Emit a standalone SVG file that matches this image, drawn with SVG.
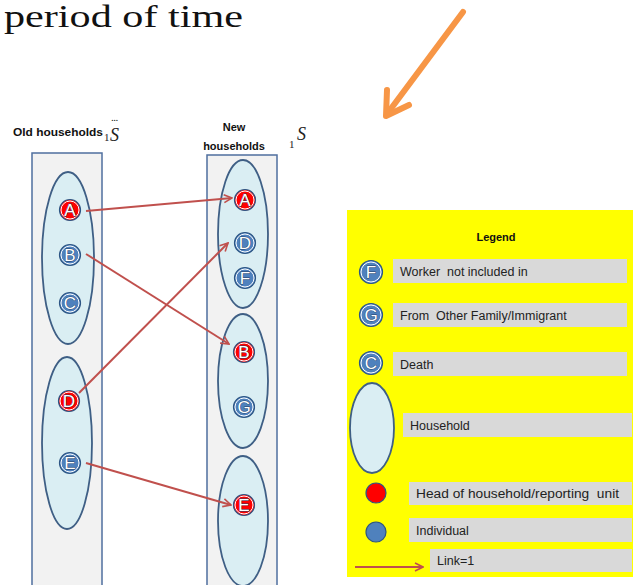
<svg xmlns="http://www.w3.org/2000/svg" width="633" height="585" viewBox="0 0 633 585">
  <defs>
    <style>
      .title { font-family: "Liberation Serif", "DejaVu Serif", serif; font-size: 31px; fill: #111; }
      .head { font-family: "Liberation Sans", Arial, sans-serif; font-size: 11px; font-weight: bold; fill: #111; }
      .math { font-family: "Liberation Serif", serif; font-style: italic; font-size: 18px; fill: #222; }
      .sub { font-family: "Liberation Serif", serif; font-size: 11px; fill: #222; }
      .col { fill: #f2f2f2; stroke: #4f6f9f; stroke-width: 1.5; }
      .hh { fill: #daeef3; stroke: #3f5f85; stroke-width: 1.8; }
      .ind { fill: #4f81bd; stroke: #2c5584; stroke-width: 1.2; }
      .headc { fill: #ff0000; stroke: #2c5584; stroke-width: 1.2; }
      .ring { fill: none; stroke: #ffffff; stroke-width: 1; }
      .lt { font-family: "Liberation Sans", Arial, sans-serif; font-size: 17px; fill: #ffffff; stroke: #1f3f66; stroke-width: 0.8; paint-order: stroke; text-anchor: middle; }
      .link { stroke: #c0504d; stroke-width: 2; fill: none; marker-end: url(#ah); }
      .bar { fill: #d9d9d9; }
      .lg { font-family: "Liberation Sans", Arial, sans-serif; font-size: 12.5px; fill: #222; }
    </style>
    <marker id="ah" viewBox="0 0 10 10" refX="9" refY="5" markerWidth="5" markerHeight="5" orient="auto" markerUnits="strokeWidth">
      <path d="M1,1 L9,5 L1,9" fill="none" stroke="#c0504d" stroke-width="1.6"/>
    </marker>
  </defs>

  <rect width="633" height="585" fill="#ffffff"/>

  <!-- heading -->
  <text class="title" x="4" y="27" textLength="239" lengthAdjust="spacingAndGlyphs">period of time</text>

  <!-- orange pointer arrow -->
  <g id="pointer" stroke="#f79646" stroke-width="6" stroke-linecap="round" stroke-linejoin="round" fill="none">
    <line x1="463" y1="12" x2="387" y2="114"/>
    <polyline points="387,90 386,116 409,105"/>
  </g>

  <!-- column headers -->
  <g id="old-header">
    <text class="head" x="13" y="136" textLength="90" lengthAdjust="spacingAndGlyphs">Old households</text>
    <text class="sub" x="104" y="141">1</text>
    <text class="math" x="110" y="141">S</text>
    <text class="sub" x="111" y="121" font-size="9" letter-spacing="-0.5">...</text>
  </g>
  <g id="new-header">
    <text class="head" x="234" y="131" text-anchor="middle">New</text>
    <text class="head" x="234" y="150" text-anchor="middle">households</text>
    <text class="sub" x="289" y="148">1</text>
    <text class="math" x="297" y="140">S</text>
  </g>

  <!-- columns -->
  <g id="old-column">
    <rect class="col" x="32" y="153" width="70" height="440"/>
  </g>
  <g id="new-column">
    <rect class="col" x="207" y="155" width="70" height="440"/>
  </g>

  <!-- old households -->
  <g id="old-hh1">
    <ellipse class="hh" cx="68" cy="258" rx="26" ry="86"/>
  </g>
  <g id="old-hh2">
    <ellipse class="hh" cx="67" cy="443" rx="25" ry="86"/>
  </g>

  <!-- new households -->
  <g id="new-hh1">
    <ellipse class="hh" cx="243" cy="234" rx="25" ry="74"/>
  </g>
  <g id="new-hh2">
    <ellipse class="hh" cx="243" cy="381" rx="25" ry="67"/>
  </g>
  <g id="new-hh3">
    <ellipse class="hh" cx="243" cy="521" rx="25" ry="65"/>
  </g>

  <!-- individuals, old side -->
  <g id="old-A"><circle class="headc" cx="70" cy="210" r="10.5"/><circle class="ring" cx="70" cy="210" r="9"/><text class="lt" x="70" y="216">A</text></g>
  <g id="old-B"><circle class="ind" cx="70" cy="255" r="10.5"/><circle class="ring" cx="70" cy="255" r="9"/><text class="lt" x="70" y="261">B</text></g>
  <g id="old-C"><circle class="ind" cx="70" cy="303" r="10.5"/><circle class="ring" cx="70" cy="303" r="9"/><text class="lt" x="70" y="309">C</text></g>
  <g id="old-D"><circle class="headc" cx="69" cy="401" r="10.5"/><circle class="ring" cx="69" cy="401" r="9"/><text class="lt" x="69" y="407">D</text></g>
  <g id="old-E"><circle class="ind" cx="70" cy="463" r="10.5"/><circle class="ring" cx="70" cy="463" r="9"/><text class="lt" x="70" y="469">E</text></g>

  <!-- individuals, new side -->
  <g id="new-A"><circle class="headc" cx="245" cy="200" r="10.5"/><circle class="ring" cx="245" cy="200" r="9"/><text class="lt" x="245" y="206">A</text></g>
  <g id="new-D"><circle class="ind" cx="245" cy="243" r="10.5"/><circle class="ring" cx="245" cy="243" r="9"/><text class="lt" x="245" y="249">D</text></g>
  <g id="new-F"><circle class="ind" cx="245" cy="278" r="10.5"/><circle class="ring" cx="245" cy="278" r="9"/><text class="lt" x="245" y="284">F</text></g>
  <g id="new-B"><circle class="headc" cx="244" cy="352" r="10.5"/><circle class="ring" cx="244" cy="352" r="9"/><text class="lt" x="244" y="358">B</text></g>
  <g id="new-G"><circle class="ind" cx="244" cy="407" r="10.5"/><circle class="ring" cx="244" cy="407" r="9"/><text class="lt" x="244" y="413">G</text></g>
  <g id="new-E"><circle class="headc" cx="244" cy="505" r="10.5"/><circle class="ring" cx="244" cy="505" r="9"/><text class="lt" x="244" y="511">E</text></g>

  <!-- links -->
  <g id="links">
    <line class="link" x1="86" y1="211" x2="232" y2="198"/>
    <line class="link" x1="86" y1="254" x2="229" y2="344"/>
    <line class="link" x1="79" y1="393" x2="228" y2="243"/>
    <line class="link" x1="86" y1="463" x2="231" y2="505"/>
  </g>

  <!-- legend -->
  <g id="legend">
    <rect x="347" y="210" width="286" height="367" fill="#ffff00"/>
    <text class="head" x="496" y="241" text-anchor="middle" font-size="12">Legend</text>

    <rect class="bar" x="393" y="259" width="234" height="24"/>
    <g id="legend-F"><circle class="ind" cx="371" cy="272" r="11.5"/><circle class="ring" cx="371" cy="272" r="10"/><text class="lt" x="371" y="278">F</text></g>
    <text class="lg" x="400" y="276" xml:space="preserve">Worker  not included in</text>

    <rect class="bar" x="393" y="303" width="234" height="24"/>
    <g id="legend-G"><circle class="ind" cx="371" cy="315" r="11.5"/><circle class="ring" cx="371" cy="315" r="10"/><text class="lt" x="371" y="321">G</text></g>
    <text class="lg" x="400" y="320" xml:space="preserve">From  Other Family/Immigrant</text>

    <rect class="bar" x="393" y="352" width="234" height="24"/>
    <g id="legend-C"><circle class="ind" cx="371" cy="363" r="11.5"/><circle class="ring" cx="371" cy="363" r="10"/><text class="lt" x="371" y="369">C</text></g>
    <text class="lg" x="400" y="369">Death</text>

    <rect class="bar" x="403" y="413" width="229" height="24"/>
    <ellipse class="hh" cx="372" cy="428" rx="22" ry="45"/>
    <text class="lg" x="410" y="430">Household</text>

    <rect class="bar" x="409" y="482" width="223" height="23"/>
    <circle class="headc" cx="376" cy="493" r="10"/>
    <text class="lg" x="416" y="498" xml:space="preserve" textLength="203" lengthAdjust="spacingAndGlyphs">Head of household/reporting  unit</text>

    <rect class="bar" x="409" y="518" width="223" height="24"/>
    <circle class="ind" cx="376" cy="532" r="10"/>
    <text class="lg" x="416" y="535">Individual</text>

    <rect class="bar" x="430" y="549" width="202" height="23"/>
    <line class="link" x1="355" y1="567" x2="423" y2="567"/>
    <text class="lg" x="437" y="565">Link=1</text>
  </g>
</svg>
